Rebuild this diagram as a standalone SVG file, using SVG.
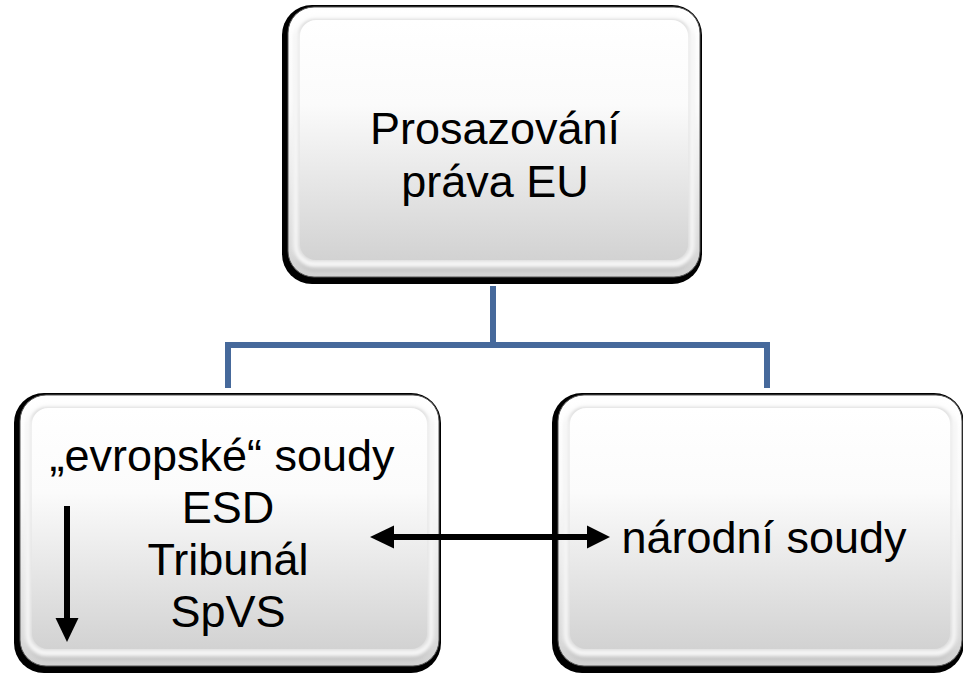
<svg xmlns="http://www.w3.org/2000/svg" width="963" height="680" viewBox="0 0 963 680">
<defs>
<linearGradient id="face" x1="0" y1="0" x2="0" y2="1">
<stop offset="0" stop-color="#ffffff"/>
<stop offset="0.35" stop-color="#fbfbfb"/>
<stop offset="1" stop-color="#d2d2d2"/>
</linearGradient>
<filter id="soft" x="-5%" y="-5%" width="110%" height="110%">
<feGaussianBlur stdDeviation="2"/>
</filter>
</defs>
<style>
.edge{fill:#000}
.face{fill:url(#face);stroke:#555;stroke-width:1}
.hl{fill:none;stroke:#ffffff;stroke-width:5;filter:url(#soft)}
.sh{fill:none;stroke:#b8b8b8;stroke-width:3;filter:url(#soft)}
.t{font-family:"Liberation Sans",Arial,sans-serif;font-size:45px;fill:#000;text-anchor:middle}
.conn{fill:none;stroke:#46699b;stroke-width:6}
.arr{stroke:#000;stroke-width:6;fill:none}
.head{fill:#000}
</style>

<g id="connectors">
<path class="conn" d="M493,286 V345 M228,388 V345 H767 V388"/>
</g>

<g id="node-top">
<rect class="edge" x="282" y="5" width="420" height="279" rx="30"/>
<rect class="face" x="288" y="7" width="412" height="270" rx="26"/>
<rect class="sh" x="297" y="20" width="394" height="249" rx="18"/>
<rect class="hl" x="296" y="16" width="396" height="248" rx="18"/>
<rect x="300" y="20" width="388" height="240" rx="16" fill="url(#face)"/>
<text class="t" x="495" y="144">Prosazování</text>
<text class="t" x="495" y="197">práva EU</text>
</g>

<g id="node-left">
<rect class="edge" x="14" y="393" width="427" height="280" rx="30"/>
<rect class="face" x="20" y="395" width="419" height="271" rx="26"/>
<rect class="sh" x="29" y="408" width="401" height="250" rx="18"/>
<rect class="hl" x="28" y="404" width="403" height="249" rx="18"/>
<rect x="32" y="408" width="395" height="241" rx="16" fill="url(#face)"/>
<text class="t" x="222" y="471">„evropské“ soudy</text>
<text class="t" x="228" y="523">ESD</text>
<text class="t" x="228" y="575">Tribunál</text>
<text class="t" x="228" y="627">SpVS</text>
<line class="arr" x1="67" y1="506" x2="67" y2="620"/>
<polygon class="head" points="55.5,618 78.5,618 67,642"/>
</g>

<g id="node-right">
<rect class="edge" x="552" y="393" width="412" height="280" rx="30"/>
<rect class="face" x="558" y="395" width="404" height="271" rx="26"/>
<rect class="sh" x="567" y="408" width="386" height="250" rx="18"/>
<rect class="hl" x="566" y="404" width="388" height="249" rx="18"/>
<rect x="570" y="408" width="380" height="241" rx="16" fill="url(#face)"/>
<text class="t" x="764" y="553">národní soudy</text>
</g>

<g id="double-arrow">
<line class="arr" x1="390" y1="537" x2="591" y2="537"/>
<polygon class="head" points="370,537 394,525.5 394,548.5"/>
<polygon class="head" points="610,537 587,525.5 587,548.5"/>
</g>
</svg>
